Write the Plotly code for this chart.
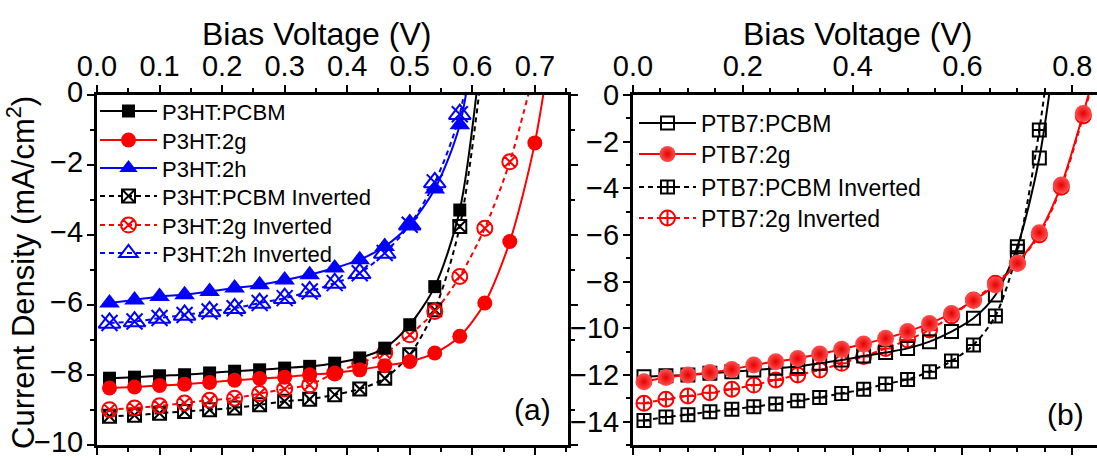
import plotly.graph_objects as go

# ---------------- data: panel (a) ----------------
V_A = [0.02, 0.06, 0.10, 0.14, 0.18, 0.22, 0.26, 0.30, 0.34, 0.38,
       0.42, 0.46, 0.50, 0.54, 0.58, 0.62, 0.66, 0.70, 0.74]
J_P3HT_PCBM = [-8.10, -8.07, -8.03, -8.00, -7.95, -7.90, -7.86, -7.81, -7.76, -7.67,
               -7.52, -7.24, -6.57, -5.48, -3.29, 2.2]
J_P3HT_2G = [-8.38, -8.35, -8.31, -8.27, -8.22, -8.16, -8.11, -8.07, -8.00, -7.95,
             -7.86, -7.74, -7.62, -7.38, -6.90, -5.95, -4.19, -1.37, 3.2]
J_P3HT_2H = [-5.95, -5.86, -5.76, -5.71, -5.62, -5.52, -5.43, -5.29, -5.14, -4.95,
             -4.71, -4.33, -3.71, -2.69, -0.85, 4.0]
J_P3HT_PCBM_INV = [-9.19, -9.16, -9.10, -9.05, -9.00, -8.95, -8.86, -8.76, -8.70, -8.57,
                   -8.41, -8.10, -7.43, -6.14, -3.76, 1.4]
J_P3HT_2G_INV = [-9.00, -8.95, -8.89, -8.81, -8.73, -8.67, -8.54, -8.41, -8.29, -7.95,
                 -7.67, -7.38, -6.86, -6.19, -5.19, -3.81, -1.91, 0.75]
J_P3HT_2H_INV = [-6.52, -6.48, -6.38, -6.29, -6.19, -6.10, -5.95, -5.81, -5.62, -5.38,
                 -5.10, -4.52, -3.71, -2.50, -0.55, 4.5]

# ---------------- data: panel (b) ----------------
V_B = [0.02, 0.06, 0.10, 0.14, 0.18, 0.22, 0.26, 0.30, 0.34, 0.38,
       0.42, 0.46, 0.50, 0.54, 0.58, 0.62, 0.66, 0.70, 0.74, 0.78,
       0.82, 0.86]
J_PTB7_PCBM = [-12.07, -12.03, -12.00, -11.93, -11.86, -11.79, -11.71, -11.64, -11.50, -11.36,
               -11.19, -11.04, -10.86, -10.57, -10.14, -9.57, -8.57, -6.50, -2.70, 4.0]
J_PTB7_2G = [-12.29, -12.11, -12.00, -11.89, -11.76, -11.57, -11.43, -11.29, -11.10, -10.90,
             -10.67, -10.43, -10.14, -9.79, -9.36, -8.81, -8.14, -7.21, -5.90, -3.86,
             -0.79, 2.7]
J_PTB7_PCBM_INV = [-13.95, -13.80, -13.70, -13.57, -13.47, -13.36, -13.24, -13.10, -12.96, -12.79,
                   -12.61, -12.39, -12.19, -11.86, -11.40, -10.71, -9.47, -6.70, -1.50, 6.0]
J_PTB7_2G_INV = [-13.21, -13.04, -12.90, -12.76, -12.61, -12.43, -12.21, -12.00, -11.79, -11.50,
                 -11.21, -10.86, -10.50, -10.07, -9.47, -8.79, -8.07, -7.21, -6.00, -3.95,
                 -0.90, 2.6]

X_TICKS_A = [0.0, 0.1, 0.2, 0.3, 0.4, 0.5, 0.6, 0.7]
X_TICKS_B = [0.0, 0.2, 0.4, 0.6, 0.8]
Y_TICKS_A = [0, -2, -4, -6, -8, -10]
Y_TICKS_B = [0, -2, -4, -6, -8, -10, -12, -14]

FONT = "Arial, 'Liberation Sans', sans-serif"
BLACK = "#000000"
RED = "#ff0000"
BLUE = "#0000ff"
W, H = 1097, 458
DASH = "5px,4px"

fig = go.Figure()


def add(x, y, name, color, symbol, size, dash="solid", xa="x", ya="y", legend="legend",
        filled=True, showlegend=True, mode="lines+markers", gradient=None, line_color=None):
    marker = dict(symbol=symbol, size=size, color=color,
                  line=dict(color=color, width=0 if filled else 2))
    if gradient:
        marker["gradient"] = gradient
    fig.add_trace(go.Scatter(
        x=x[:len(y)], y=y, name=name, mode=mode,
        line=dict(color=line_color or color, width=2, dash=dash, shape="spline",
                  smoothing=0.8),
        marker=marker, xaxis=xa, yaxis=ya, legend=legend, showlegend=showlegend,
        cliponaxis=True))


# panel (a)  -- one legend box per entry so rows can sit where the reference has them
add(V_A, J_P3HT_PCBM_INV, "P3HT:PCBM Inverted", BLACK, "square-x-open", 13, DASH,
    filled=False, legend="legend4")
add(V_A, J_P3HT_2G_INV, "P3HT:2g Inverted", RED, "circle-x-open", 15, DASH,
    filled=False, legend="legend5")
add(V_A, J_P3HT_2H_INV, "P3HT:2h Inverted", BLUE, "triangle-up-open", 19, DASH,
    filled=False, legend="legend6")
add(V_A, J_P3HT_2H_INV, "P3HT:2h Inverted X", BLUE, "x-thin-open", 16, filled=False,
    showlegend=False, mode="markers", legend="legend6")
add(V_A, J_P3HT_PCBM, "P3HT:PCBM", BLACK, "square", 13, legend="legend")
add(V_A, J_P3HT_2G, "P3HT:2g", RED, "circle", 15, legend="legend2")
add(V_A, J_P3HT_2H, "P3HT:2h", BLUE, "triangle-up", 18, legend="legend3")

# panel (b)
add(V_B, J_PTB7_PCBM_INV, "PTB7:PCBM Inverted", BLACK, "square-cross-open", 13, DASH,
    xa="x2", ya="y2", legend="legend9", filled=False)
add(V_B, J_PTB7_2G_INV, "PTB7:2g Inverted", RED, "circle-cross-open", 15, DASH,
    xa="x2", ya="y2", legend="legend10", filled=False)
add(V_B, J_PTB7_PCBM, "PTB7:PCBM", BLACK, "square-open", 13,
    xa="x2", ya="y2", legend="legend7", filled=False)
add(V_B, J_PTB7_2G, "PTB7:2g", "#ff5050", "circle", 17,
    xa="x2", ya="y2", legend="legend8", line_color=RED,
    gradient=dict(type="radial", color="#e60000"))

y_dom = [1 - 445 / H, 1 - 95 / H]
TICKFONT = dict(family=FONT, size=29, color=BLACK)
MINOR = dict(ticklen=4, tickwidth=2, ticks="outside", tickcolor=BLACK, showgrid=False)

axis_common = dict(showline=True, linewidth=3, linecolor=BLACK, ticks="outside",
                   ticklen=7, tickwidth=2, tickcolor=BLACK, showgrid=False, zeroline=False,
                   tickfont=TICKFONT, ticklabeloverflow="allow", automargin=False)


def legend_box(x_text, y_center, size, itemwidth=57):
    h = size * 1.3 + 3
    return dict(x=(x_text - itemwidth - 11) / W, y=1 - (y_center - 5 - h / 2) / H,
                xanchor="left", yanchor="top", bgcolor="rgba(0,0,0,0)", borderwidth=0,
                itemwidth=itemwidth, font=dict(family=FONT, size=size, color=BLACK))


LEG_A_ROWS = [111, 140, 168, 196, 225, 253]
LEG_B_ROWS = [123, 154, 187, 218]
legends = {}
for i, yc in enumerate(LEG_A_ROWS):
    key = "legend" if i == 0 else f"legend{i + 1}"
    legends[key] = legend_box(163, yc, 22)
for i, yc in enumerate(LEG_B_ROWS):
    legends[f"legend{i + 7}"] = legend_box(702, yc, 23)

fig.update_layout(
    width=W, height=H, margin=dict(l=0, r=0, t=0, b=0, autoexpand=False),
    paper_bgcolor="white", plot_bgcolor="white",
    font=dict(family=FONT, color=BLACK),
    xaxis=dict(domain=[97 / W, 568 / W], range=[0, 0.753], side="top", anchor="y",
               mirror="ticks", tickvals=X_TICKS_A, tickformat=".1f", ticklabelstandoff=-3,
               minor=dict(dtick=0.05, tick0=0, **MINOR), **axis_common),
    yaxis=dict(domain=y_dom, range=[-10.01, 0.0], anchor="x", mirror="ticks",
               tickvals=Y_TICKS_A, ticklabelstandoff=-2, ticklabelshift=-3,
               minor=dict(dtick=1, tick0=0, **MINOR), **axis_common),
    xaxis2=dict(domain=[633 / W, 1.0], range=[0, 0.845], side="top", anchor="y2",
                mirror="ticks", tickvals=X_TICKS_B, tickformat=".1f", ticklabelstandoff=-3,
                minor=dict(dtick=0.05, tick0=0, **MINOR), **axis_common),
    yaxis2=dict(domain=y_dom, range=[-15, 0], anchor="x2", mirror=False,
                tickvals=Y_TICKS_B, ticklabelstandoff=-2,
                minor=dict(dtick=1, tick0=0, **MINOR), **axis_common),
    annotations=[
        dict(text="Bias Voltage (V)", x=316 / W, y=1 - 34 / H, xref="paper", yref="paper",
             xanchor="center", yanchor="middle", showarrow=False,
             font=dict(family=FONT, size=32, color=BLACK)),
        dict(text="Bias Voltage (V)", x=857 / W, y=1 - 34 / H, xref="paper", yref="paper",
             xanchor="center", yanchor="middle", showarrow=False,
             font=dict(family=FONT, size=32, color=BLACK)),
        dict(text="Current Density (mA/cm<sup>2</sup>)", x=21 / W, y=1 - 273 / H,
             xref="paper", yref="paper", xanchor="center", yanchor="middle",
             textangle=-90, showarrow=False, font=dict(family=FONT, size=31, color=BLACK)),
        dict(text="(a)", x=532 / W, y=1 - 409 / H, xref="paper", yref="paper",
             xanchor="center", yanchor="middle", showarrow=False,
             font=dict(family=FONT, size=30, color=BLACK)),
        dict(text="(b)", x=1065 / W, y=1 - 414 / H, xref="paper", yref="paper",
             xanchor="center", yanchor="middle", showarrow=False,
             font=dict(family=FONT, size=30, color=BLACK)),
    ],
    **legends,
)

fig.write_html("out.html")
